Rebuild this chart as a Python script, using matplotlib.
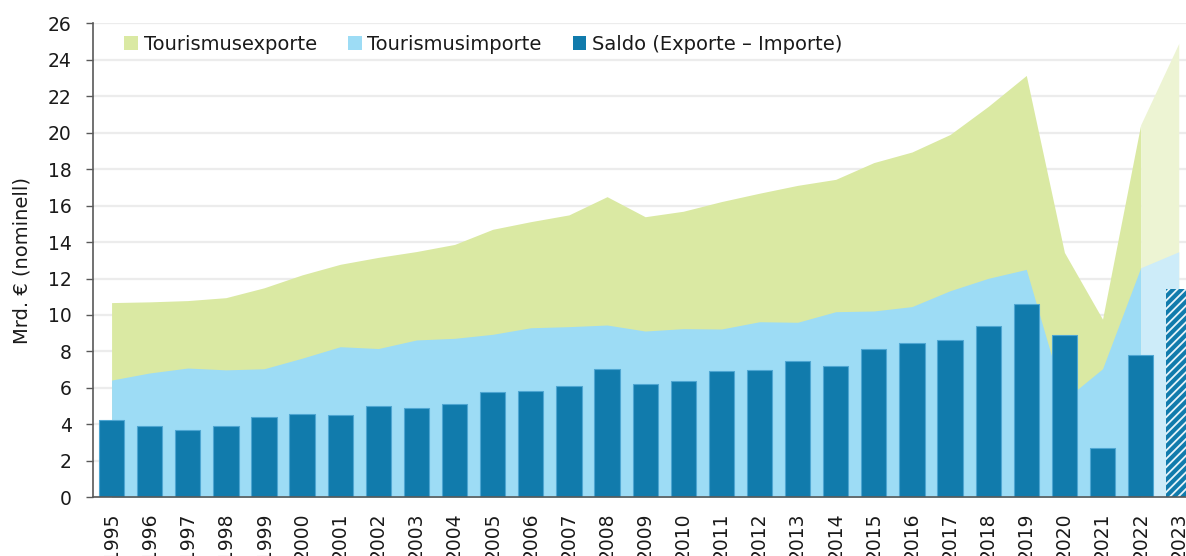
import numpy as np
import matplotlib
matplotlib.use("Agg")
import matplotlib.pyplot as plt
from matplotlib.patches import Patch

years = [str(y) for y in range(1995, 2024)]
exports = [10.68, 10.72, 10.79, 10.95, 11.49, 12.20, 12.78, 13.16, 13.48, 13.87,
           14.70, 15.12, 15.49, 16.49, 15.39, 15.69, 16.22, 16.68, 17.11, 17.44,
           18.36, 18.94, 19.90, 21.44, 23.14, 13.43, 9.77, 20.43, 24.90]
imports = [6.43, 6.82, 7.09, 6.99, 7.05, 7.63, 8.26, 8.16, 8.63, 8.72,
           8.94, 9.30, 9.36, 9.45, 9.12, 9.25, 9.23, 9.63, 9.60, 10.18,
           10.22, 10.46, 11.33, 12.01, 12.50, 5.34, 7.05, 12.59, 13.47]
saldo = [4.24, 3.89, 3.67, 3.93, 4.42, 4.58, 4.50, 5.01, 4.88, 5.12,
         5.76, 5.83, 6.10, 7.04, 6.21, 6.40, 6.93, 6.97, 7.48, 7.22,
         8.12, 8.45, 8.62, 9.40, 10.61, 8.90, 2.68, 7.83, 11.43]
labels = ["Tourismusexporte", "Tourismusimporte", "Saldo (Exporte \u2013 Importe)"]

plt.rcParams['font.family'] = ['DejaVu Sans']
plt.rcParams['hatch.linewidth'] = 1.3

C_EXP = "#dae9a3"
C_EXP_L = "#edf4d3"
C_IMP = "#9ddcf5"
C_IMP_L = "#cdecf9"
C_BAR = "#117bac"
C_BAR_EDGE = "#4ea6d2"

fig = plt.figure(figsize=(11.86, 5.56), dpi=100)
ax = fig.add_axes([0.078, 0.1056, 0.922, 0.8525])

x = np.arange(len(years))
n = len(years)
proj = n - 2  # last segment is a projection

ax.fill_between(x[:proj + 1], 0, exports[:proj + 1], color=C_EXP, lw=0, zorder=1)
ax.fill_between(x[proj:], 0, exports[proj:], color=C_EXP_L, lw=0, zorder=1)
ax.fill_between(x[:proj + 1], 0, imports[:proj + 1], color=C_IMP, lw=0, zorder=2)
ax.fill_between(x[proj:], 0, imports[proj:], color=C_IMP_L, lw=0, zorder=2)

ax.bar(x[:-1], saldo[:-1], width=0.664, color=C_BAR, edgecolor=C_BAR_EDGE,
       linewidth=0.8, zorder=3)
ax.bar(x[-1:], saldo[-1:], width=0.664, color=C_BAR, edgecolor="#e8f4fa",
       linewidth=0, hatch="////", zorder=3)

ax.set_xlim(-0.5, 28.19)
ax.set_ylim(0, 26)
ax.set_yticks(np.arange(0, 27, 2))
ax.set_xticks(x)
ax.set_xticklabels(years, rotation=90, va="top", ha="center")
ax.tick_params(axis="x", length=0, pad=11, labelsize=13.5, colors="#1a1a1a")
ax.tick_params(axis="y", length=5, width=1, pad=10, labelsize=13.5,
               colors="#1a1a1a", direction="out")
ax.tick_params(axis="y", color="#595959")

ax.set_axisbelow(True)
ax.yaxis.grid(True, color="#ececec", linewidth=1.6)
for s in ["top", "right"]:
    ax.spines[s].set_visible(False)
ax.spines["left"].set_color("#595959")
ax.spines["left"].set_linewidth(1.2)
ax.spines["bottom"].set_color("#595959")
ax.spines["bottom"].set_linewidth(1.2)
ax.spines["bottom"].set_zorder(5)

ax.set_ylabel("Mrd. \u20ac (nominell)", fontsize=14, color="#1a1a1a", labelpad=12)

handles = [Patch(facecolor=C_EXP, edgecolor="none"),
           Patch(facecolor=C_IMP, edgecolor="none"),
           Patch(facecolor=C_BAR, edgecolor="none")]
leg = ax.legend(handles, labels, ncol=3, loc="center left",
                bbox_to_anchor=(0.029, 0.956), frameon=False, fontsize=14,
                handlelength=0.7, handleheight=0.7, handletextpad=0.3,
                columnspacing=1.6, borderpad=0, borderaxespad=0)
for t in leg.get_texts():
    t.set_color("#1a1a1a")

fig.savefig("out.png", dpi=100)
